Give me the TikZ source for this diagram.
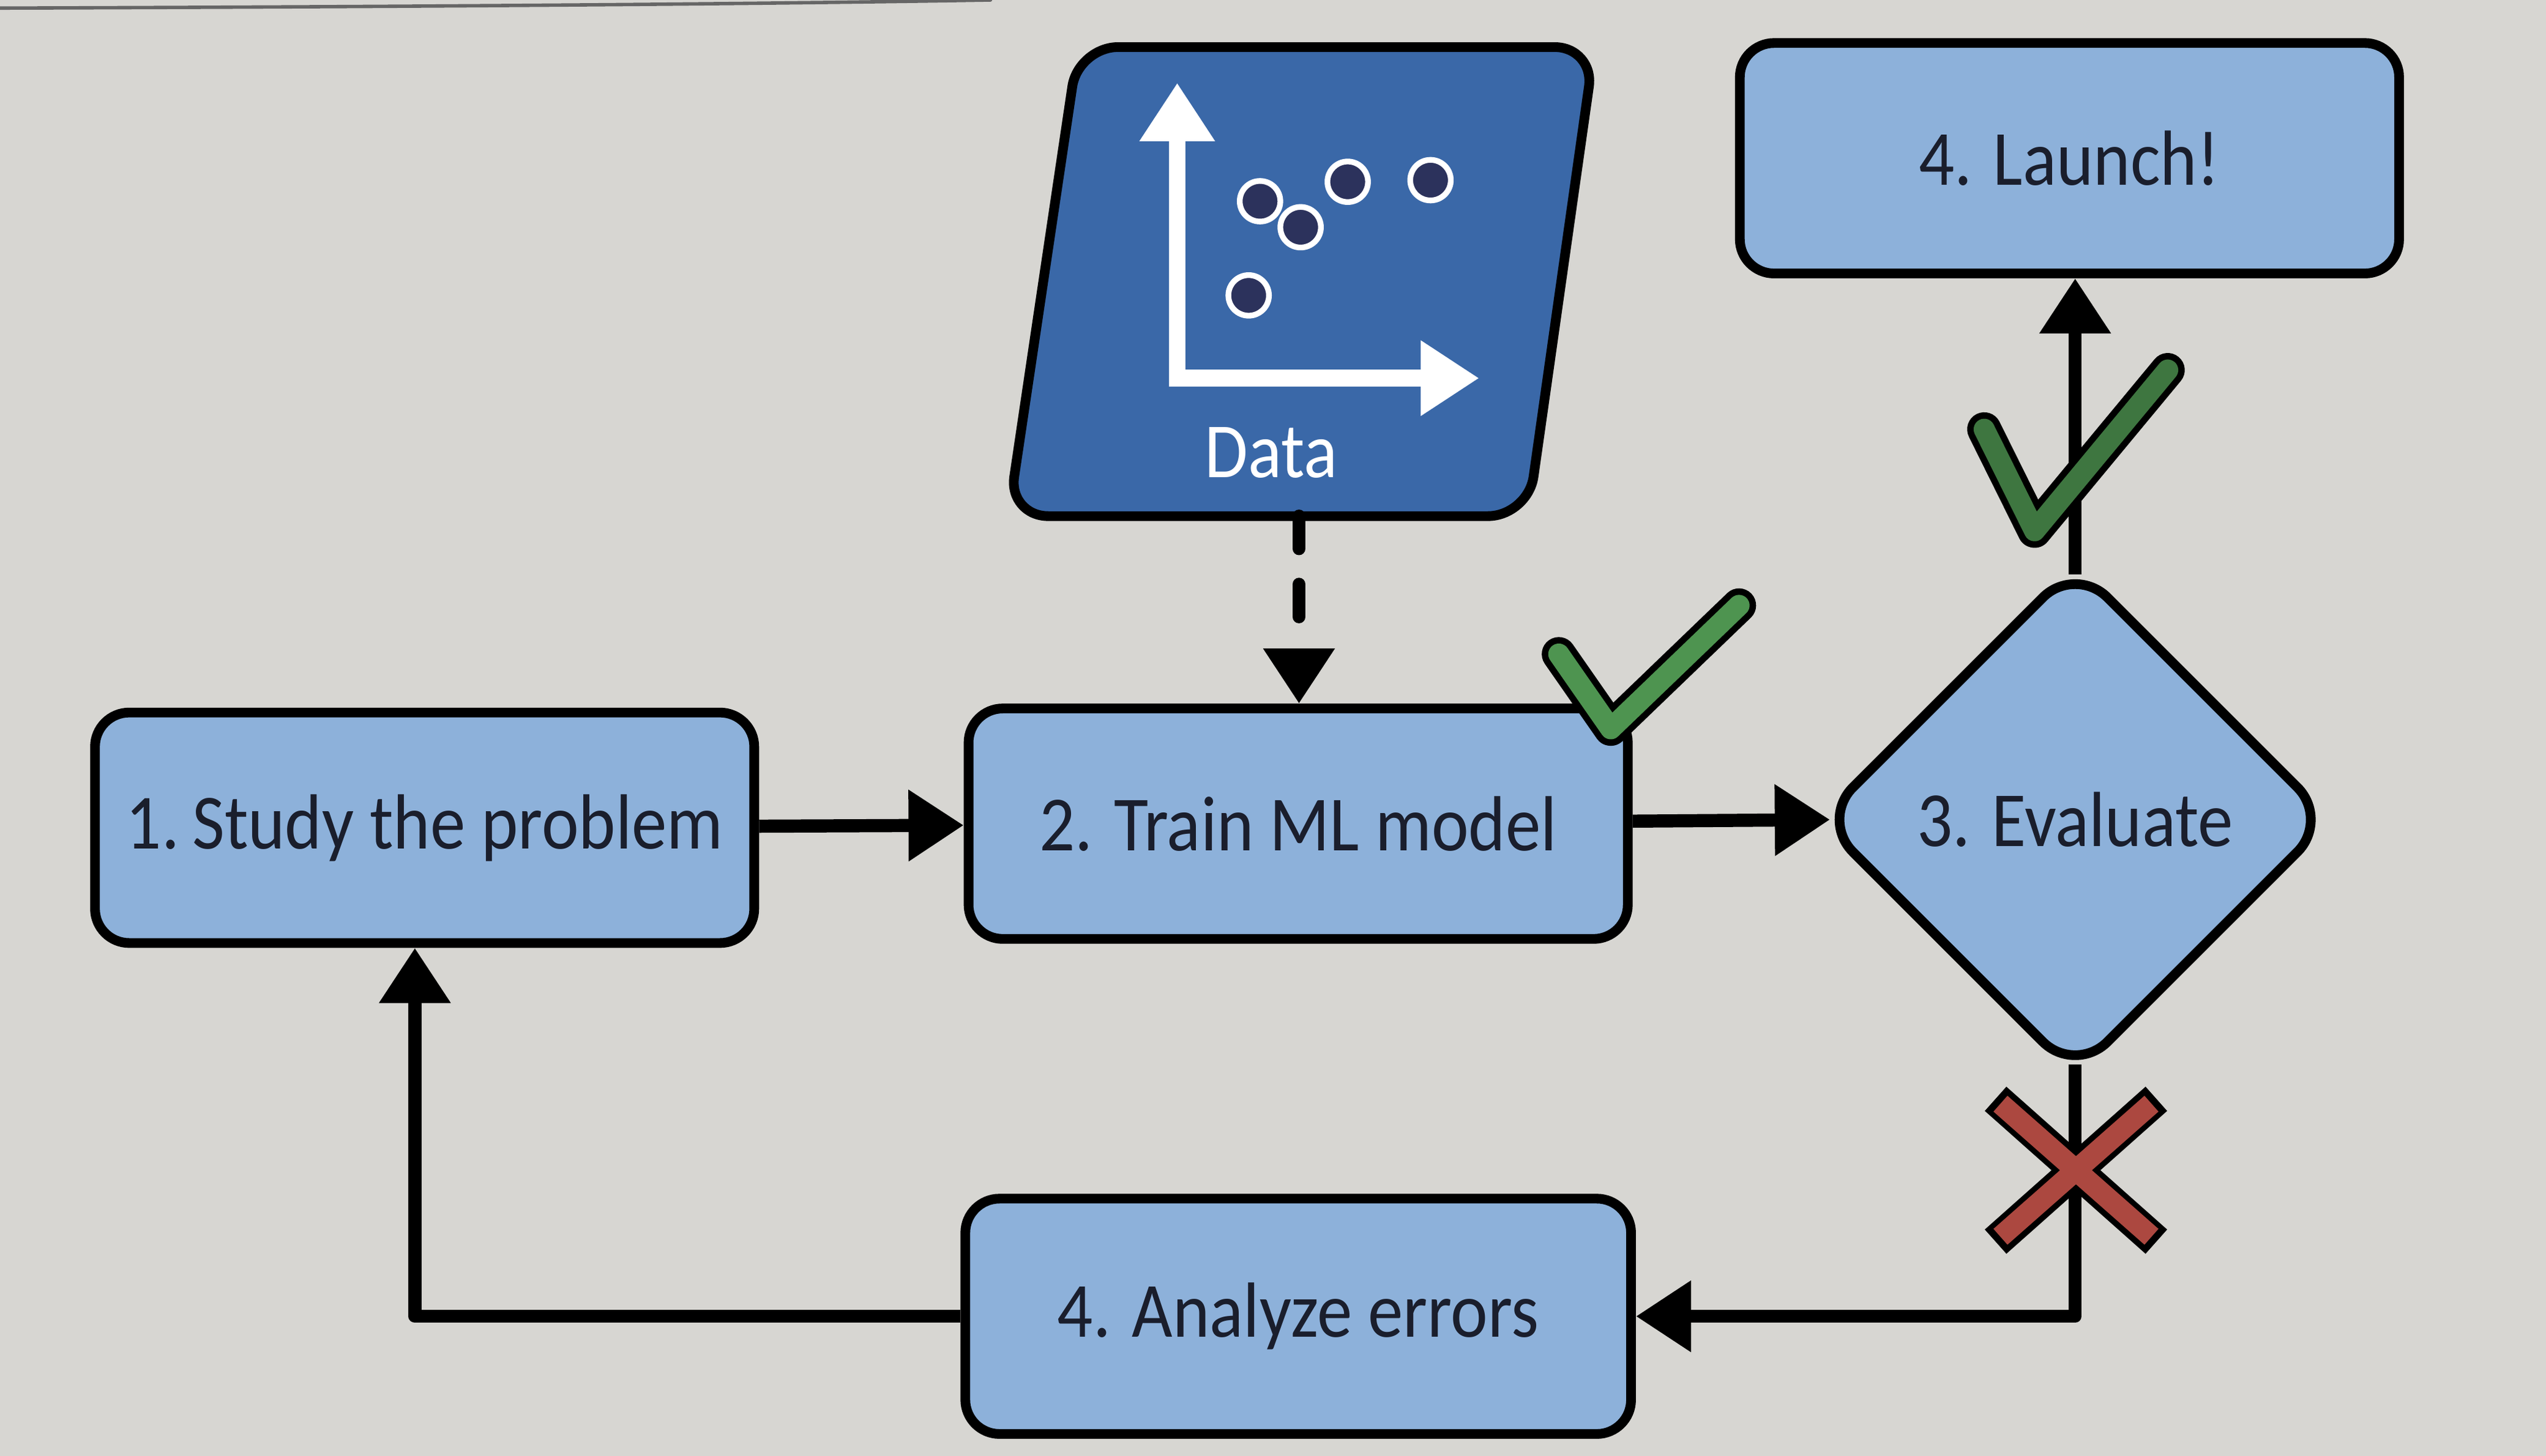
\documentclass[tikz,border=0pt]{standalone}
\usepackage{fontspec}
\setmainfont{Carlito}[FakeStretch=0.9]
\usetikzlibrary{shapes.geometric,arrows.meta,calc}
\definecolor{paper}{RGB}{215,214,210}
\definecolor{boxblue}{RGB}{141,177,218}
\definecolor{datablue}{RGB}{58,104,168}
\definecolor{dotnavy}{RGB}{44,50,92}
\definecolor{inkdark}{RGB}{26,30,44}
\definecolor{okgreen}{RGB}{78,148,80}
\definecolor{badred}{RGB}{172,72,64}
\begin{document}
\begin{tikzpicture}[line join=round, line cap=round, >={Triangle[length=3.4mm,width=4.2mm]},
	stepbox/.style={draw=black, fill=boxblue, line width=1.7pt, rounded corners=6pt, text=inkdark,
		font=\fontsize{13.7}{16}\selectfont, minimum width=4.06cm, minimum height=1.42cm, inner sep=0pt},
	conn/.style={draw=black, line width=2.3pt, line cap=butt, ->}]
		\tikzset{tick style/.style={line cap=round, line join=round}}
		\fill[paper] (0,0) rectangle (15.68,8.97);
		\useasboundingbox (0,0) rectangle (15.68,8.97);
		\draw[black!60, line width=0.6pt] (0,8.92) .. controls (3,8.93) and (5,8.95) .. (6.1,8.97);
		% data panel
		\draw[line width=1.7pt, fill=datablue, rounded corners=7pt]
			(6.64,8.68) -- (9.82,8.68) -- (9.41,5.79) -- (6.21,5.79) -- cycle;
		\coordinate (data) at (8.00,5.79);
		\draw[white, line width=3pt, line cap=butt, line join=miter,
			{Triangle[length=3.6mm,width=4.4mm]}-{Triangle[length=3.6mm,width=4.4mm]}]
			(7.25,8.46) -- (7.25,6.64) -- (9.11,6.64);
		\foreach \p in {(7.76,7.73),(8.01,7.57),(8.30,7.85),(8.81,7.86),(7.69,7.15)}
		\draw[white, fill=dotnavy, line width=1pt] \p circle (0.125);
		\node[text=white, font=\fontsize{13.7}{16}\selectfont] (datalabel) at (7.83,6.18) {Data};
		% steps
		\node[stepbox] (study) at (2.615,3.87) {1.\,Study the problem};
		\node[stepbox] (train) at (7.995,3.895) {2. Train ML model};
		\node[stepbox, diamond, aspect=1, rounded corners=8pt, minimum width=3.16cm, minimum height=3.16cm] (eval) at (12.78,3.92) {3. Evaluate};
		\node[stepbox] (launch) at (12.745,7.995) {4. Launch!};
		\node[stepbox, minimum width=4.1cm, minimum height=1.45cm] (analyze) at (7.995,0.86) {4. Analyze errors};
		% connectors
		\draw[conn] (study) -- (train);
		\draw[conn] (train) -- ($(eval.west)+(0.1,0)$);
		\draw[conn, line cap=round, dash pattern=on 0.2cm off 0.22cm] (data) -- (data |- train.north);
		\draw[conn] ($(eval.north)-(0,0.1)$) -- (eval.north |- launch.south);
		\draw[conn] ($(eval.south)+(0,0.1)$) |- (analyze.east);
		\draw[conn] (analyze.west) -| ($(study.south)+(-0.06,0)$);
		% marks
		\draw[tick style, black, line width=0.21cm] (9.60,4.94) -- (9.92,4.48) -- (10.71,5.24);
		\draw[tick style, okgreen, line width=0.13cm] (9.60,4.94) -- (9.92,4.48) -- (10.71,5.24);
		\draw[tick style, black, line width=0.21cm] (12.22,6.325) -- (12.53,5.70) -- (13.35,6.69);
		\draw[tick style, okgreen!80!black, line width=0.13cm] (12.22,6.325) -- (12.53,5.70) -- (13.35,6.69);
		\draw[black, line width=0.2cm, line cap=butt] (12.29,2.20) -- (13.28,1.32) (13.28,2.20) -- (12.29,1.32);
		\draw[badred, line width=0.13cm, line cap=butt] (12.32,2.17) -- (13.25,1.35) (13.25,2.17) -- (12.32,1.35);
\end{tikzpicture}
\end{document}
